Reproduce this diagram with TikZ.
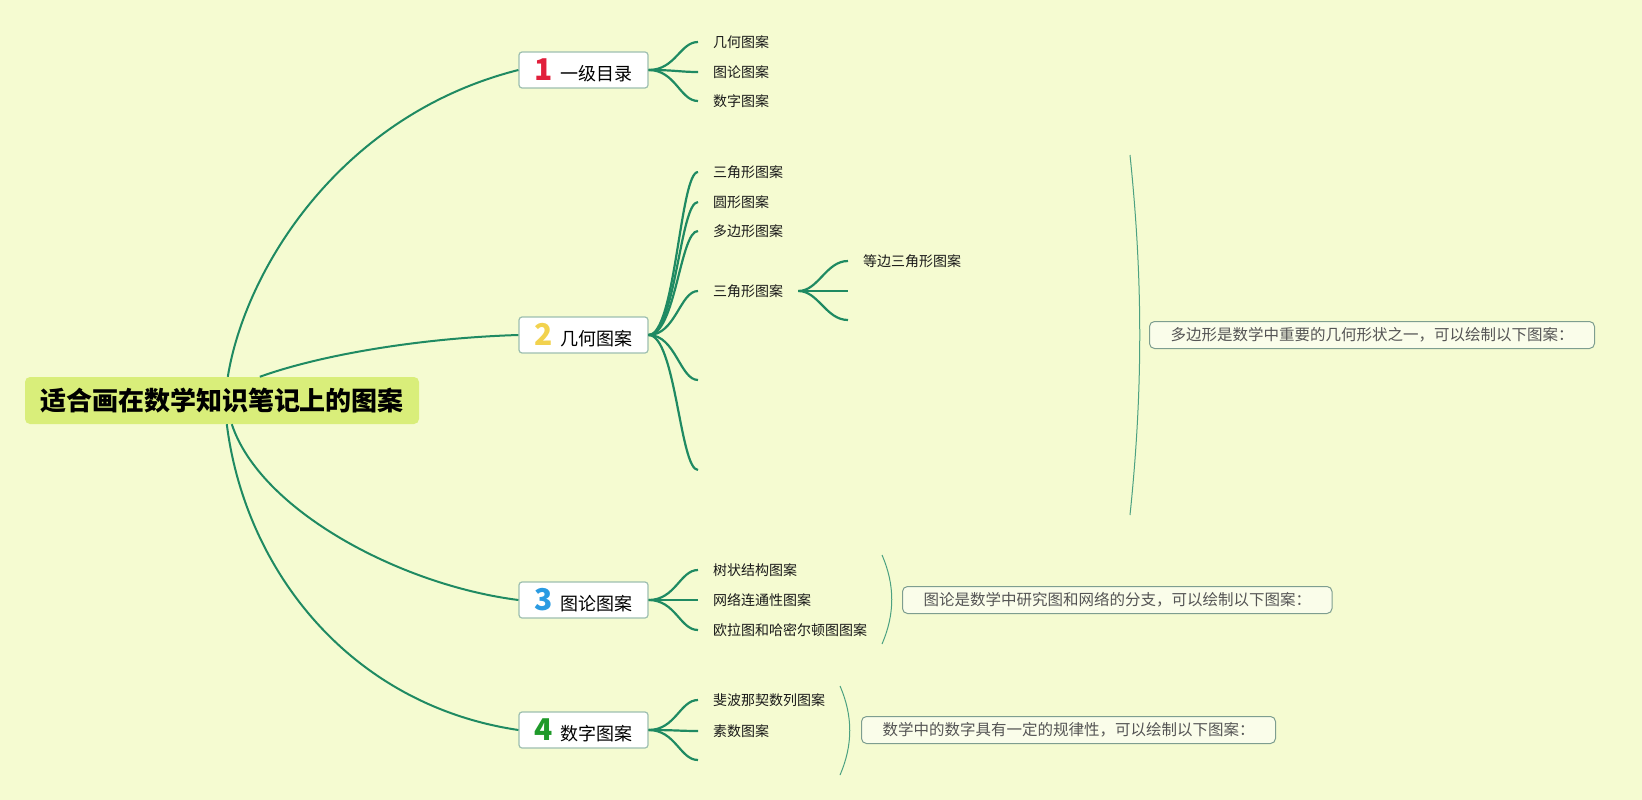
\documentclass[tikz,border=0pt]{standalone}
\usepackage{fontspec}
\setmainfont{Noto Sans CJK SC}
\usetikzlibrary{calc}
\definecolor{bg}{HTML}{F5FBD1}
\definecolor{conn}{HTML}{1F8A62}
\definecolor{rootfill}{HTML}{D9EE7A}
\definecolor{boxline}{HTML}{9DBFB0}
\definecolor{noteline}{HTML}{7E9E90}
\definecolor{notetext}{HTML}{555555}
\definecolor{cone}{HTML}{E11F3B}
\definecolor{ctwo}{HTML}{F2D24E}
\definecolor{cthree}{HTML}{2A9BE2}
\definecolor{cfour}{HTML}{1F9A2A}
\tikzset{
  rootbox/.style={fill=rootfill, rounded corners=5pt, minimum width=394pt, minimum height=47pt, inner sep=0pt, font=\fontsize{26}{26}\selectfont\bfseries},
  topicbox/.style={draw=boxline, line width=1.2pt, fill=white, rounded corners=3pt, minimum width=129pt, minimum height=36pt, inner sep=0pt},
  leaf/.style={anchor=west, inner xsep=15pt, inner ysep=2pt, font=\fontsize{14}{14}\selectfont, text=black!90},
  notebox/.style={draw=noteline, line width=1pt, fill=white!55!bg, rounded corners=5pt, minimum height=27pt, inner xsep=21pt, inner ysep=0pt, anchor=west, font=\fontsize{15.5}{15.5}\selectfont, text=notetext},
  mainconn/.style={draw=conn, line width=2pt},
  br/.style={draw=conn, line width=2.2pt},
  bracket/.style={draw=conn!80!white, line width=1pt},
}
\newcommand{\topictext}[2]{{\fontsize{30}{30}\selectfont\bfseries\color{#1}#2}\hspace{8pt}{\fontsize{18}{18}\selectfont #2}}
\newcommand{\topicbody}[3]{{\fontsize{30}{30}\selectfont\bfseries\color{#1}#2}\hspace{8pt}{\fontsize{18}{18}\selectfont #3}}
\begin{document}
\begin{tikzpicture}[x=1pt,y=-1pt]
\fill[bg] (0,0) rectangle (1642,800);
\useasboundingbox (0,0) rectangle (1642,800);

% root
\node[rootbox] (root) at (222,400.5) {适合画在数学知识笔记上的图案};

% topics
\node[topicbox] (b1) at (583.5,70) {\topicbody{cone}{1}{一级目录}};
\node[topicbox] (b2) at (583.5,335) {\topicbody{ctwo}{2}{几何图案}};
\node[topicbox] (b3) at (583.5,600) {\topicbody{cthree}{3}{图论图案}};
\node[topicbox] (b4) at (583.5,730) {\topicbody{cfour}{4}{数字图案}};

% main connectors
\draw[mainconn] ($(root.north west)+(203,0)$) .. controls (245,270) and (340,115) .. (b1.west);
\draw[mainconn] ($(root.north west)+(235,0)$) .. controls (320,355) and (420,338) .. (b2.west);
\draw[mainconn] ($(root.south west)+(207,0)$) .. controls (260,510) and (400,585) .. (b3.west);
\draw[mainconn] ($(root.south west)+(202,0)$) .. controls (245,570) and (350,705) .. (b4.west);

% leaves of topic 1
\node[leaf] (l11) at (698,42) {几何图案};
\node[leaf] (l12) at (698,72) {图论图案};
\node[leaf] (l13) at (698,101) {数字图案};
\foreach \n in {l11,l12,l13}
  \draw[br] (b1.east) .. controls +(27,0) and +(-18,0) .. (\n.west);

% leaves of topic 2
\node[leaf] (l21) at (698,172) {三角形图案};
\node[leaf] (l22) at (698,202) {圆形图案};
\node[leaf] (l23) at (698,231) {多边形图案};
\node[leaf] (l24) at (698,291) {三角形图案};
\coordinate (l25) at (698,380);
\coordinate (l26) at (698,470);
\foreach \n in {l21,l22,l23,l24}
  \draw[br] (b2.east) .. controls +(27,0) and +(-18,0) .. (\n.west);
\foreach \n in {l25,l26}
  \draw[br] (b2.east) .. controls +(27,0) and +(-18,0) .. (\n);

% sub-branch
\node[leaf] (s1) at (848,261) {等边三角形图案};
\coordinate (s2) at (848,291);
\coordinate (s3) at (848,320);
\draw[br] (l24.east) .. controls +(20,0) and +(-22,0) .. (s1.west);
\draw[br] (l24.east) -- (s2);
\draw[br] (l24.east) .. controls +(20,0) and +(-22,0) .. (s3);

% leaves of topic 3
\node[leaf] (l31) at (698,570) {树状结构图案};
\node[leaf] (l32) at (698,600) {网络连通性图案};
\node[leaf] (l33) at (698,630) {欧拉图和哈密尔顿图图案};
\foreach \n in {l31,l32,l33}
  \draw[br] (b3.east) .. controls +(27,0) and +(-18,0) .. (\n.west);

% leaves of topic 4
\node[leaf] (l41) at (698,700) {斐波那契数列图案};
\node[leaf] (l42) at (698,731) {素数图案};
\coordinate (l43) at (698,760);
\foreach \n in {l41,l42}
  \draw[br] (b4.east) .. controls +(27,0) and +(-18,0) .. (\n.west);
\draw[br] (b4.east) .. controls +(27,0) and +(-18,0) .. (l43);

% brackets
\coordinate (k2t) at (1130,155);
\coordinate (k2b) at (1130,515);
\draw[bracket] (k2t) .. controls (1143,280) and (1143,390) .. (k2b);
\coordinate (k3t) at (882,555);
\coordinate (k3b) at (882,644);
\draw[bracket] (k3t) .. controls (895,585) and (895,614) .. (k3b);
\coordinate (k4t) at (840,686);
\coordinate (k4b) at (840,775);
\draw[bracket] (k4t) .. controls (853,716) and (853,745) .. (k4b);

% notes
\node[notebox] (n2) at (1149,335) {多边形是数学中重要的几何形状之一，可以绘制以下图案：};
\node[notebox] (n3) at (902,600) {图论是数学中研究图和网络的分支，可以绘制以下图案：};
\node[notebox] (n4) at (861,730) {数学中的数字具有一定的规律性，可以绘制以下图案：};
\end{tikzpicture}
\end{document}
